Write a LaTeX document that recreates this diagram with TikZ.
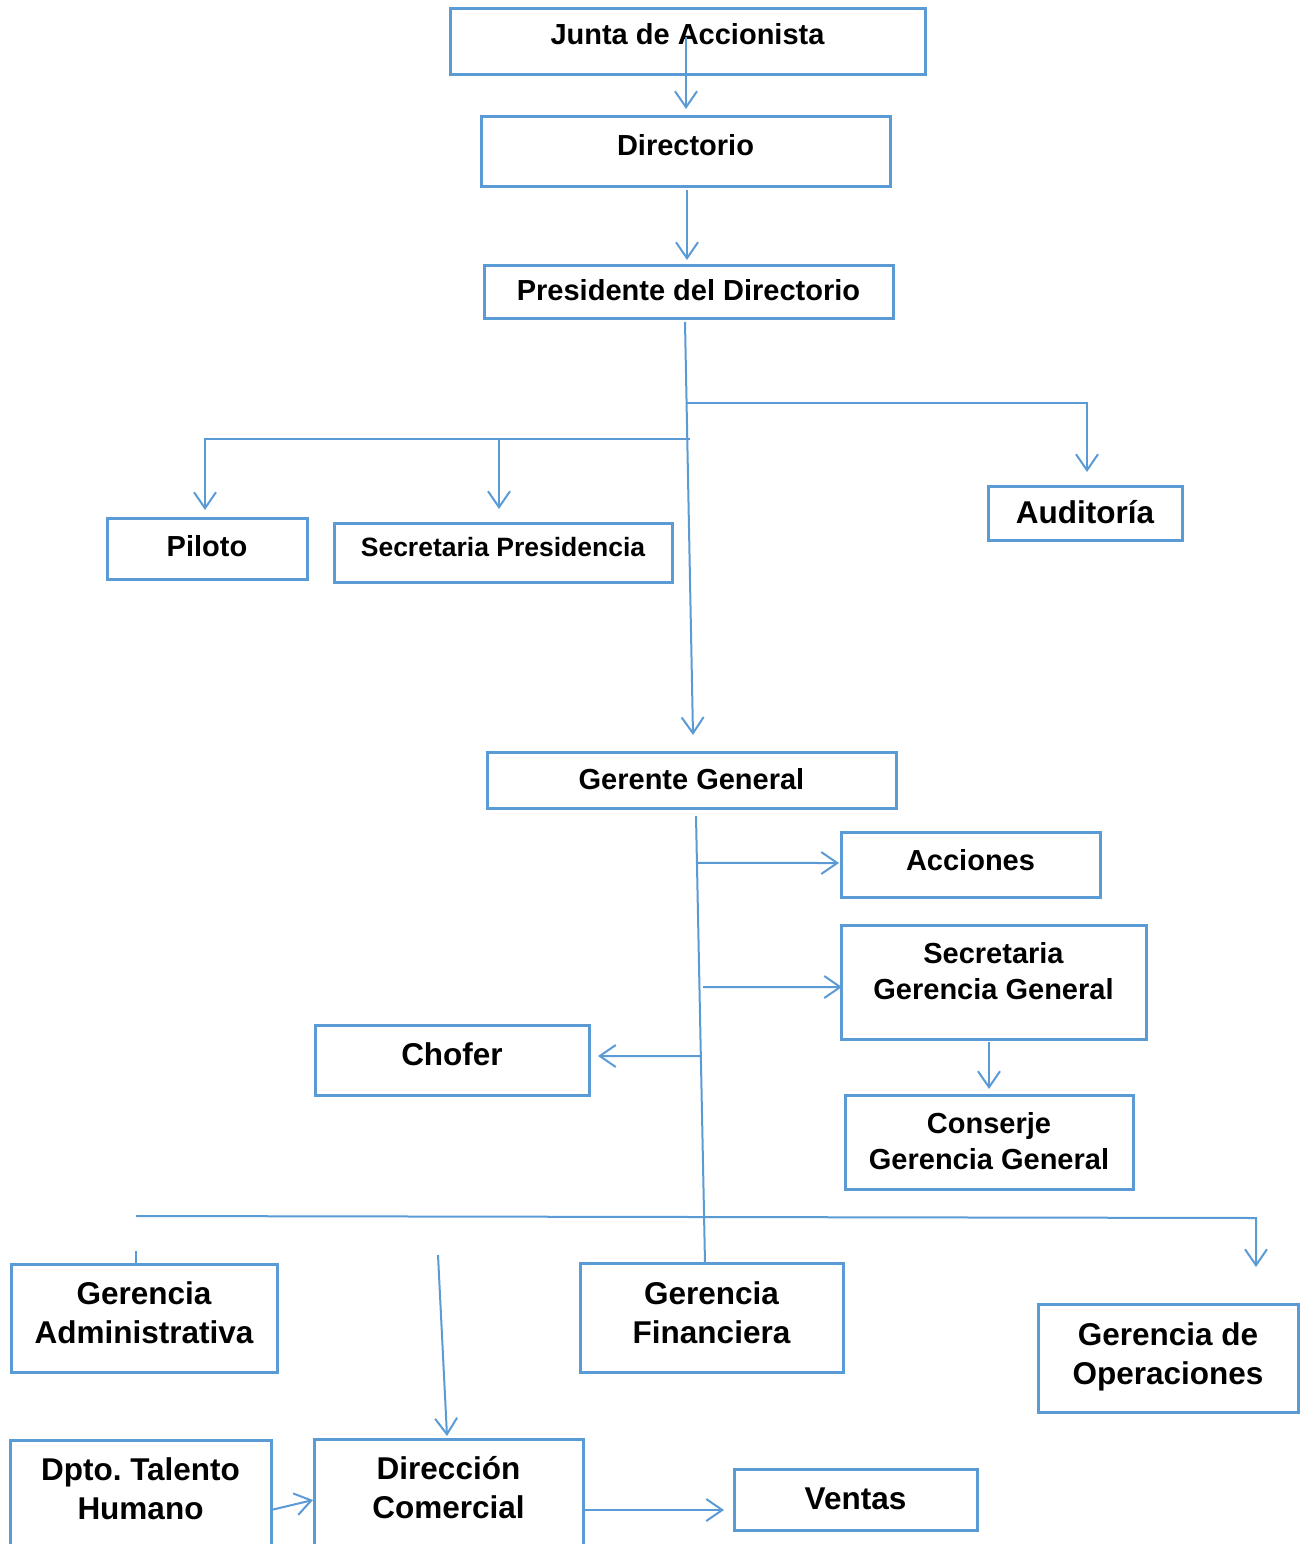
\documentclass[tikz,border=0pt]{standalone}
\usepackage{fontspec}
\setmainfont{Liberation Sans}
\usetikzlibrary{arrows.meta,calc}
\definecolor{oblue}{RGB}{91,155,213}
\newcommand{\ml}[1]{\begin{tabular}[b]{@{}c@{}}#1\end{tabular}}
\frenchspacing
\begin{document}
\begin{tikzpicture}[x=1pt,y=-1pt,
  box/.style={draw=oblue, line width=3pt, inner sep=0pt, outer sep=0pt, minimum height=0pt,
    font=\bfseries\fontsize{29}{36}\selectfont},
  big/.style={font=\bfseries\fontsize{31.5}{39}\selectfont},
  conn/.style={draw=oblue, line width=2pt},
  arr/.style={conn, -{Straight Barb[length=16pt,width=22pt]}}]
\useasboundingbox (0,0) rectangle (1306,1544);
\clip (0,0) rectangle (1306,1544);

\node[box, minimum width=475pt, text height=36pt, text depth=30pt] (junta) at (687.5,42) {Junta de Accionista};
\node[box, minimum width=409pt, text height=38pt, text depth=31pt] (dir) at (685.5,151.5) {Directorio};
\node[box, minimum width=409pt, text height=35pt, text depth=18pt] (pres) at (688.5,291.5) {Presidente del Directorio};
\node[box, minimum width=200pt, text height=38pt, text depth=23pt] (piloto) at (207,548.5) {Piloto};
\node[box, font=\bfseries\fontsize{26.5}{32}\selectfont, minimum width=338pt, text height=33pt, text depth=26pt] (secpres) at (503,552.5) {Secretaria Presidencia};
\node[box, big, minimum width=194pt, text height=37pt, text depth=17pt] (audit) at (1085,513) {Auditoría};
\node[box, minimum width=409pt, text height=37pt, text depth=19pt] (gerente) at (691.5,780) {Gerente General};
\node[box, minimum width=259pt, text height=38pt, text depth=27pt] (acciones) at (970.5,864.5) {Acciones};
\node[box, minimum width=305pt, text height=74pt, text depth=40pt] (secgg) at (993.5,982) {\ml{Secretaria\\Gerencia General}};
\node[box, minimum width=288pt, text height=74pt, text depth=20pt] (conserje) at (989,1142) {\ml{Conserje\\Gerencia General}};
\node[box, big, minimum width=274pt, text height=40pt, text depth=30pt] (chofer) at (452,1060) {Chofer};
\node[box, big, minimum width=266pt, text height=79pt, text depth=29pt] (gadm) at (144,1318) {\ml{Gerencia\\Administrativa}};
\node[box, big, minimum width=263pt, text height=80pt, text depth=29pt] (gfin) at (711.5,1317.5) {\ml{Gerencia\\Financiera}};
\node[box, big, minimum width=260pt, text height=80pt, text depth=28pt] (gop) at (1168,1358) {\ml{Gerencia de\\Operaciones}};
\node[box, big, minimum width=261pt, text height=79pt, text depth=81pt] (dpto) at (140.5,1520) {\ml{Dpto.\ Talento\\Humano}};
\node[box, big, minimum width=269pt, text height=79pt, text depth=82pt] (dirc) at (448.5,1519.5) {\ml{Dirección\\Comercial}};
\node[box, big, minimum width=243pt, text height=40pt, text depth=21pt] (ventas) at (855.5,1499.5) {Ventas};

% top chain
\draw[arr] ($(junta.center)+(-1.5,-5)$) -- ($(dir.north)+(0.5,-8)$);
\draw[arr] ($(dir.south)+(1.5,4)$) -- ($(pres.north)+(-1.5,-5)$);
% trunk president -> gerente
\draw[arr] ($(pres.south)+(-3.5,4)$) coordinate (t1) -- ($(gerente.north)+(1.5,-17)$) coordinate (t2);
\draw[arr] ($(t1)!0.196!(t2)$) -| ($(audit.north)+(2,-14)$);
\draw[arr] ($(t1)!0.283!(t2)+(3,0)$) -| ($(piloto.north)+(-2,-8)$);
\draw[arr] ($(secpres.north)+(-4,-84)$) -- ($(secpres.north)+(-4,-14)$);
% trunk gerente -> financiera
\draw[conn] ($(gerente.south)+(4.5,8)$) coordinate (g1) -- ($(gfin.north)+(-6.5,0)$) coordinate (g2);
\draw[arr] ($(g1)!0.105!(g2)$) -- ($(acciones.west)+(-2,-1.5)$);
\draw[arr] ($(g1)!0.3826!(g2)+(3.6,0)$) -- ($(secgg.west)+(1,5)$);
\draw[arr] ($(g1)!0.537!(g2)$) -- ($(chofer.east)+(9,-4)$);
\draw[arr] ($(secgg.south)+(-4.5,3)$) -- ($(conserje.north)+(0,-6)$);
% bottom level
\draw[arr] ($(gadm.north)+(-8,-48)$) -- ($(gop.north)+(88,-86)$) -- ($(gop.north)+(88,-37)$);
\draw[conn] ($(gadm.north)+(-8,-13)$) -- ($(gadm.north)+(-8,0)$);
\draw[arr] ($(dirc.north)+(-10.5,-184)$) -- ($(dirc.north)+(-1.5,-3)$);
\draw[arr] ($(dpto.east)+(0,-10)$) -- ($(dirc.west)+(-1,-19.5)$);
\draw[arr] ($(dirc.east)+(0,-9.5)$) -- ($(ventas.west)+(-10,10.5)$);
\end{tikzpicture}
\end{document}
